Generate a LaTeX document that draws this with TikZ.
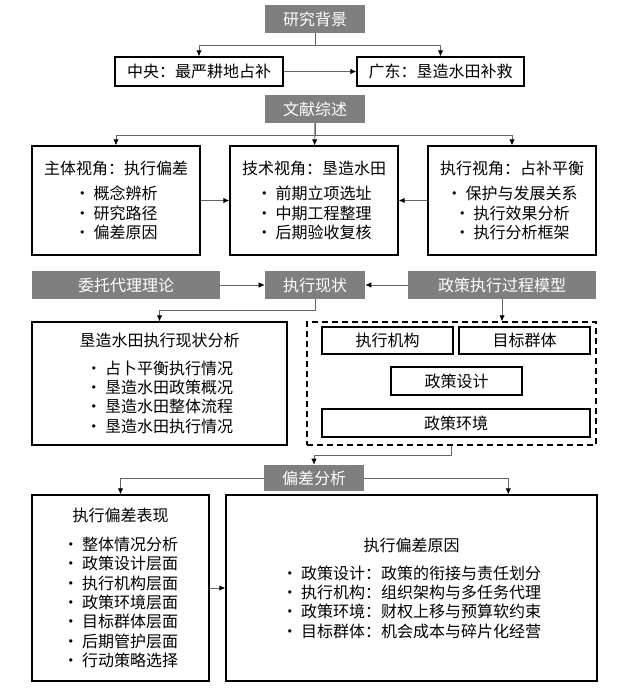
\documentclass[tikz,border=0pt]{standalone}
\usepackage{fontspec}
\setmainfont{Noto Sans CJK SC}
\usetikzlibrary{arrows.meta,calc}
\definecolor{boxgray}{RGB}{127,127,127}
\newcommand\bul{\makebox[14.5pt][l]{•}}
\tikzset{
  gbox/.style={fill=boxgray,text=white,inner sep=0pt,minimum width=75pt,minimum height=21pt},
  wbox/.style={draw=black,line width=0.9pt,inner sep=0pt,align=center},
  conn/.style={draw=black!60,line width=0.6pt,-{Latex[black,length=4.5pt,width=4pt]}}
}
\begin{document}
\begin{tikzpicture}[x=0.75pt,y=-0.75pt,font=\fontsize{12pt}{14.5pt}\selectfont]
\useasboundingbox (0,0) rectangle (635,688);
% background
\node[gbox] (bg) at (315,19) {研究背景};
\node[wbox,minimum width=126pt,minimum height=21.75pt] (zy) at (199,71.5) {中央：最严耕地占补};
\node[wbox,minimum width=125.25pt,minimum height=21.75pt] (gd) at (440.5,71.5) {广东：垦造水田补救};
\draw[conn] (bg.south) -- ++(0,12) -| (zy);
\draw[conn] (bg.south) -- ++(0,12) -| (gd);
\draw[conn] (zy) -- (gd);
% literature
\node[gbox] (ws) at (315,109) {文献综述};
\node[wbox,minimum width=126pt,minimum height=81.75pt] (p1) at (116,200.5) {主体视角：执行偏差\\[4.5pt]\bul 概念辨析\\\bul 研究路径\\\bul 偏差原因};
\node[wbox,minimum width=126pt,minimum height=81.75pt] (p2) at (314,200.5) {技术视角：垦造水田\\[4.5pt]\bul 前期立项选址\\\bul 中期工程整理\\\bul 后期验收复核};
\node[wbox,minimum width=126pt,minimum height=81.75pt] (p3) at (512,200.5) {执行视角：占补平衡\\[4.5pt]\bul 保护与发展关系\\\bul 执行效果分析\\\bul 执行分析框架};
\draw[conn] (ws.south) -- ++(0,12) -| (p1);
\draw[conn] (ws) -- (p2);
\draw[conn] (ws.south) -- ++(0,12) -| (p3);
\draw[conn] (p1) -- (p2);
\draw[conn] (p3) -- (p2);
% status
\node[gbox,minimum width=141pt] (wt) at (126,285) {委托代理理论};
\node[gbox] (xz) at (315,285) {执行现状};
\node[gbox,minimum width=141pt] (mx) at (502,285) {政策执行过程模型};
\draw[conn] (wt) -- (xz);
\draw[conn] (mx) -- (xz);
\node[wbox,minimum width=191.25pt,minimum height=92.25pt] (fx) at (159.5,383.5) {垦造水田执行现状分析\\[6pt]\bul 占卜平衡执行情况\\\bul 垦造水田政策概况\\\bul 垦造水田整体流程\\\bul 垦造水田执行情况};
\node[draw=black,line width=0.9pt,dash pattern=on 4.5pt off 3pt,minimum width=216.75pt,minimum height=92.25pt] (gc) at (451.5,383.5) {};
\node[wbox,line width=0.8pt,minimum width=98.25pt,minimum height=20.25pt] (jg) at (387.5,340.5) {执行机构};
\node[wbox,line width=0.8pt,minimum width=98.25pt,minimum height=20.25pt] (mb) at (524.5,340.5) {目标群体};
\node[wbox,line width=0.8pt,minimum width=98.25pt,minimum height=21pt] (sj) at (456.5,381) {政策设计};
\node[wbox,line width=0.8pt,minimum width=201pt,minimum height=21pt] (hj) at (456,423) {政策环境};
\draw[conn] (xz.south) -- ++(0,11) -| (fx);
\draw[conn] (mx.south) -- (mx.south |- gc.north);
% deviation
\node[gbox,minimum height=19.5pt] (pc) at (314,478) {偏差分析};
\draw[conn] (gc.south) -- ++(0,10) -| (pc);
\node[wbox,minimum width=132.75pt,minimum height=139.5pt] (bx) at (120.5,588) {执行偏差表现\\[7pt]\bul 整体情况分析\\\bul 政策设计层面\\\bul 执行机构层面\\\bul 政策环境层面\\\bul 目标群体层面\\\bul 后期管护层面\\\bul 行动策略选择};
\node[wbox,minimum width=278.25pt,minimum height=139.5pt] (yy) at (411.5,588) {执行偏差原因\\[6.5pt]\bul 政策设计：政策的衔接与责任划分\\\bul 执行机构：组织架构与多任务代理\\\bul 政策环境：财权上移与预算软约束\\\bul 目标群体：机会成本与碎片化经营};
\draw[conn] (pc.west) -| (bx);
\draw[conn] (pc.east) -| ($(yy.north)!0.52!(yy.north east)$);
\draw[conn] (bx) -- (yy);
\end{tikzpicture}
\end{document}
